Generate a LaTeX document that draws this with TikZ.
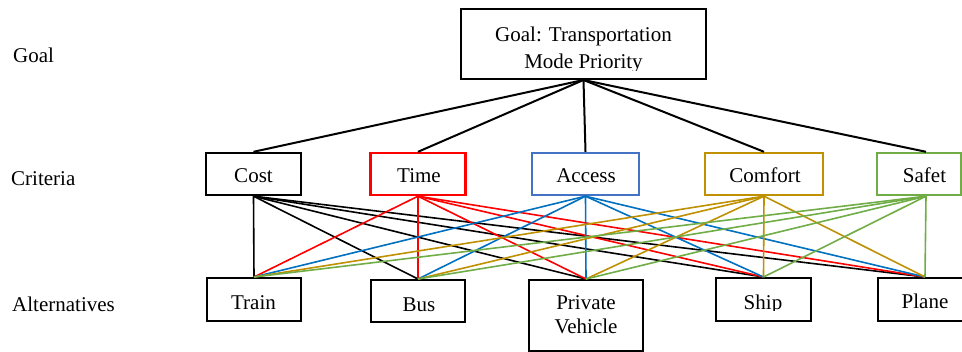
\documentclass[tikz,border=0pt]{standalone}
\usepackage{fontspec}
\setmainfont{Liberation Serif}
\usetikzlibrary{calc}
\definecolor{accessblue}{HTML}{4472C4}
\definecolor{accessline}{HTML}{0070C0}
\definecolor{comfortgold}{HTML}{BF9000}
\definecolor{safetygreen}{HTML}{70AD47}

\begin{document}
\begin{tikzpicture}[
  x=1pt,y=-1pt,
  box/.style={draw,line width=2pt,inner sep=0pt,minimum height=42pt},
  crit/.style={box,draw=#1,line width=2.4pt},
  crit/.default=black,
  alt/.style={box,minimum height=43pt},
  txt/.style={font=\fontsize{21}{27}\selectfont,inner sep=0pt,anchor=base},
  side/.style={txt,anchor=base west},
  link/.style={line width=1.6pt},
  goallink/.style={line width=2pt}
]
  \clip (0,0) rectangle (962,352);

  % level names on the left
  \node[side] (goalname) at (13,63) {Goal};
  \node[side] (critname) at (11,186) {Criteria};
  \node[side] (altname) at (12,311.7) {Alternatives};

  % goal
  \node[box,minimum width=245pt,minimum height=70pt] (goal) at (583.5,44) {};
  \node[txt] (goalone) at (583.5,41.5) {Goal: Transportation};
  \begin{scope}
    \clip (461,50) rectangle (706,70.3);
    \node[txt] (goaltwo) at (583.5,68.5) {Mode Priority};
  \end{scope}

  % criteria
  \node[crit,minimum width=95pt] (cost) at (253.5,174) {};
  \node[crit=red,minimum width=95pt] (time) at (418,174) {};
  \node[crit=accessblue,minimum width=107pt] (access) at (585.5,174) {};
  \node[crit=comfortgold,minimum width=118pt] (comfort) at (764,174) {};
  \node[crit=safetygreen,minimum width=84pt] (safety) at (919,174) {};
  \coordinate (safetytop) at ($(safety.north)+(7,0)$);
  \coordinate (safetybot) at ($(safety.south)+(7,0)$);

  \node[txt] (costtext) at (253.5,183) {Cost};
  \node[txt] (timetext) at (419,183) {Time};
  \node[txt] (accesstext) at (586,183) {Access};
  \node[txt] (comforttext) at (765,183) {Comfort};
  \node[txt] (safetytext) at (924.5,183) {Safet};

  % alternatives
  \node[alt,minimum width=94pt] (train) at (254,299.5) {};
  \node[alt,minimum width=94pt,minimum height=42pt] (bus) at (418,301) {};
  \node[alt,minimum width=114pt,minimum height=71pt] (private) at (586,315.5) {};
  \node[alt,minimum width=95pt] (ship) at (763.5,299.5) {};
  \node[alt,minimum width=94pt] (plane) at (925,299.5) {};

  \node[txt] (traintext) at (253.5,310) {Train};
  \node[txt] (bustext) at (419,311.5) {Bus};
  \node[txt] (privateone) at (586,310) {Private};
  \node[txt] (privatetwo) at (586,334) {Vehicle};
  \begin{scope}
    \clip (716,285) rectangle (811,311);
    \node[txt] (shiptext) at (763,309.5) {Ship};
  \end{scope}
  \node[txt] (planetext) at (925,309) {Plane};

  % goal to criteria
  \foreach \dst in {cost.north,time.north,access.north,comfort.north,safetytop}{
    \draw[goallink] (goal.south) -- (\dst);
  }

  % criteria to alternatives
  \foreach \src/\col in {cost.south/black,time.south/red,access.south/accessline,comfort.south/comfortgold,safetybot/safetygreen}{
    \foreach \dst in {train,bus,private,ship,plane}{
      \draw[link,\col] (\src) -- (\dst.north);
    }
  }
\end{tikzpicture}
\end{document}
